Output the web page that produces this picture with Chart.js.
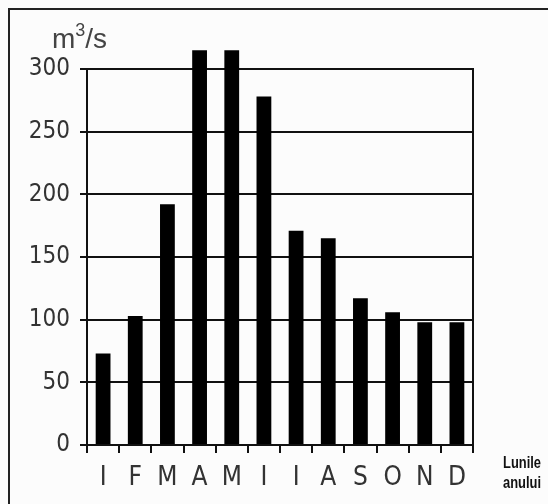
<!DOCTYPE html>
<html>
<head>
<meta charset="utf-8">
<script src="https://cdn.jsdelivr.net/npm/chart.js@4"></script>
<style>
  html, body { margin: 0; padding: 0; background: #fcfcfc; }
  #wrap { position: relative; width: 548px; height: 504px; overflow: hidden; }
  #frame {
    position: absolute; left: 8px; top: 8px; width: 560px; height: 520px;
    border-top: 2px solid #222; border-left: 2px solid #222;
  }
  #unit {
    position: absolute; left: 52px; top: 23px; line-height: 28px;
    font: 28px "Liberation Sans", Arial, sans-serif; color: #444;
  }
  #unit sup { font-size: 18px; vertical-align: 12px; line-height: 0; }
  #xname {
    position: absolute; left: 503px; top: 453px; line-height: 22px;
    font: bold 17px "Liberation Sans", Arial, sans-serif;
    color: #111; transform: scaleX(0.76); transform-origin: left top;
  }
  canvas { position: absolute; left: 0; top: 0; }
</style>
</head>
<body>
<div id="wrap">
  <canvas id="riverChart" width="548" height="504"></canvas>
  <div id="frame"></div>
  <div id="unit">m<sup>3</sup>/s</div>
  <div id="xname">Lunile<br>anului</div>
</div>
<script>
/* global Chart */

// Debitul mediu lunar (m3/s)
const months = ['I', 'F', 'M', 'A', 'M', 'I', 'I', 'A', 'S', 'O', 'N', 'D'];
const discharge = [73, 103, 192, 315, 315, 278, 171, 165, 117, 106, 98, 98];
const yTicks = [0, 50, 100, 150, 200, 250, 300];

const narrowFont = '"Liberation Sans Narrow", "DejaVu Sans Condensed", "Liberation Sans", sans-serif';

function riverChart() {
  const config = {
    type: 'bar',
    data: {
      labels: months,
      datasets: [{
        data: discharge,
        backgroundColor: '#000',
        borderWidth: 0,
        barPercentage: 0.46,
        categoryPercentage: 1,
        clip: false,
      }],
    },
    options: {
      responsive: false,
      animation: false,
      layout: { padding: { top: 69, right: 75, left: 0, bottom: 0 } },
      plugins: {
        legend: { display: false },
        tooltip: { enabled: false },
      },
      scales: {
        x: {
          offset: true,
          grid: {
            offset: true,
            drawOnChartArea: false,
            drawTicks: true,
            tickLength: 8,
            color: '#111',
            lineWidth: 2,
          },
          border: { display: true, color: '#111', width: 2 },
          ticks: {
            padding: 10,
            color: '#333',
            font: { family: narrowFont, size: 26 },
          },
          afterFit: (scale) => { scale.height = 59; },
        },
        y: {
          min: 0,
          max: 300,
          afterBuildTicks: (scale) => { scale.ticks = yTicks.map((v) => ({ value: v })); },
          grid: { color: '#111', lineWidth: 2, tickLength: 7 },
          border: { display: true, color: '#111', width: 2 },
          ticks: {
            padding: 10,
            color: '#333',
            font: { family: narrowFont, size: 24 },
          },
          afterFit: (scale) => { scale.width = 87; },
        },
        yr: {
          position: 'right',
          min: 0,
          max: 300,
          grid: { display: false, drawTicks: false },
          border: { display: true, color: '#111', width: 2 },
          ticks: { display: false },
          afterFit: (scale) => { scale.width = 0; },
        },
      },
    },
  };
  const ctx = document.getElementById('riverChart');

  return new Chart(ctx, config);
}

document.addEventListener('DOMContentLoaded', riverChart);
</script>
</body>
</html>
